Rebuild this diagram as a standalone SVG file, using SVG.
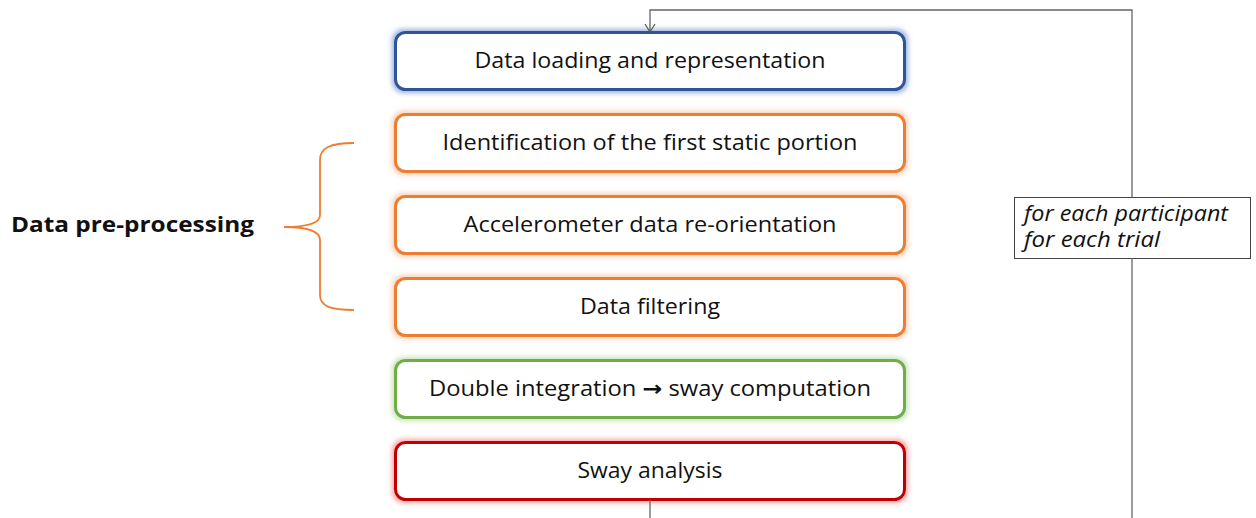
<svg xmlns="http://www.w3.org/2000/svg" width="1256" height="518" viewBox="0 0 1256 518">
  <defs>
    <style>
      .box { fill: #ffffff; stroke-width: 3; }
      .lbl { font-family: "Open Sans", "Liberation Sans", sans-serif; font-size: 21px; fill: #111; text-anchor: middle; }
      .loop { fill: none; stroke: #666; stroke-width: 1.3; }
      .note { font-family: "Open Sans", "Liberation Sans", sans-serif; font-size: 21px; font-style: italic; fill: #111; }
      .blue { stroke: #2F5597; }
      .orange { stroke: #ED7D31; }
      .green { stroke: #70AD47; }
      .red { stroke: #C00000; }
    </style>
    <filter id="gBlue" x="-10%" y="-30%" width="120%" height="160%">
      <feMorphology in="SourceAlpha" operator="dilate" radius="1.5" result="d"/>
      <feGaussianBlur in="d" stdDeviation="2.5" result="b"/>
      <feFlood flood-color="#8FAADC" flood-opacity="0.9"/>
      <feComposite in2="b" operator="in" result="g"/>
      <feMerge><feMergeNode in="g"/><feMergeNode in="SourceGraphic"/></feMerge>
    </filter>
    <filter id="gOrange" x="-10%" y="-30%" width="120%" height="160%">
      <feMorphology in="SourceAlpha" operator="dilate" radius="1.5" result="d"/>
      <feGaussianBlur in="d" stdDeviation="2.5" result="b"/>
      <feFlood flood-color="#F8CBAD" flood-opacity="0.9"/>
      <feComposite in2="b" operator="in" result="g"/>
      <feMerge><feMergeNode in="g"/><feMergeNode in="SourceGraphic"/></feMerge>
    </filter>
    <filter id="gGreen" x="-10%" y="-30%" width="120%" height="160%">
      <feMorphology in="SourceAlpha" operator="dilate" radius="1.5" result="d"/>
      <feGaussianBlur in="d" stdDeviation="2.5" result="b"/>
      <feFlood flood-color="#C5E0B4" flood-opacity="0.9"/>
      <feComposite in2="b" operator="in" result="g"/>
      <feMerge><feMergeNode in="g"/><feMergeNode in="SourceGraphic"/></feMerge>
    </filter>
    <filter id="gRed" x="-10%" y="-30%" width="120%" height="160%">
      <feMorphology in="SourceAlpha" operator="dilate" radius="1.5" result="d"/>
      <feGaussianBlur in="d" stdDeviation="2.5" result="b"/>
      <feFlood flood-color="#FF9999" flood-opacity="0.9"/>
      <feComposite in2="b" operator="in" result="g"/>
      <feMerge><feMergeNode in="g"/><feMergeNode in="SourceGraphic"/></feMerge>
    </filter>
    <marker id="open" viewBox="0 0 12 12" refX="11" refY="6" markerWidth="12" markerHeight="12" markerUnits="userSpaceOnUse" orient="auto">
      <path d="M3 1 L11 6 L3 11" fill="none" stroke="#555" stroke-width="1.2"/>
    </marker>
  </defs>

  <g id="step-load">
    <rect class="box blue" x="395.5" y="32.5" width="509" height="57" rx="10" filter="url(#gBlue)"/>
    <text class="lbl" x="650" y="68" textLength="351" lengthAdjust="spacingAndGlyphs">Data loading and representation</text>
  </g>
  <g id="step-static">
    <rect class="box orange" x="395.5" y="114.5" width="509" height="57" rx="10" filter="url(#gOrange)"/>
    <text class="lbl" x="650" y="150" textLength="415" lengthAdjust="spacingAndGlyphs">Identification of the first static portion</text>
  </g>
  <g id="step-reorient">
    <rect class="box orange" x="395.5" y="196.5" width="509" height="57" rx="10" filter="url(#gOrange)"/>
    <text class="lbl" x="650" y="232" textLength="373" lengthAdjust="spacingAndGlyphs">Accelerometer data re-orientation</text>
  </g>
  <g id="step-filter">
    <rect class="box orange" x="395.5" y="278.5" width="509" height="57" rx="10" filter="url(#gOrange)"/>
    <text class="lbl" x="650" y="314" textLength="140" lengthAdjust="spacingAndGlyphs">Data filtering</text>
  </g>
  <g id="step-integrate">
    <rect class="box green" x="395.5" y="360.5" width="509" height="57" rx="10" filter="url(#gGreen)"/>
    <text class="lbl" x="650" y="396" textLength="442" lengthAdjust="spacingAndGlyphs">Double integration <tspan font-family="'DejaVu Sans', sans-serif" font-weight="bold">→</tspan> sway computation</text>
  </g>
  <g id="step-analysis">
    <rect class="box red" x="395.5" y="442.5" width="509" height="57" rx="10" filter="url(#gRed)"/>
    <text class="lbl" x="650" y="478" textLength="145" lengthAdjust="spacingAndGlyphs">Sway analysis</text>
  </g>

  <!-- pre-processing group label with brace -->
  <g id="preprocessing">
    <path d="M354 143 C330 143 320 148 320 160 V215 C320 222 310 227 284 227 C310 227 320 232 320 240 V295 C320 306 330 310 354 310" fill="none" stroke="#ED7D31" stroke-width="1.8"/>
    <text x="11" y="232" font-family="'Open Sans', 'Liberation Sans', sans-serif" font-size="21" font-weight="bold" fill="#111" textLength="243" lengthAdjust="spacingAndGlyphs">Data pre-processing</text>
  </g>

  <g id="loop-note">
    <rect x="1014.5" y="197.5" width="236" height="61" fill="#fff" stroke="#444" stroke-width="1"/>
    <text class="note" x="1024" y="221" textLength="204" lengthAdjust="spacingAndGlyphs">for each participant</text>
    <text class="note" x="1024" y="247" textLength="136" lengthAdjust="spacingAndGlyphs">for each trial</text>
  </g>

  <!-- loop connector: out of the last step, round the right side, back into the first -->
  <g id="connectors">
    <path class="loop" d="M650 500 V518"/>
    <path class="loop" d="M1132 518 V258"/>
    <path class="loop" d="M1132 197 V10 H650 V32" marker-end="url(#open)"/>
  </g>
</svg>
